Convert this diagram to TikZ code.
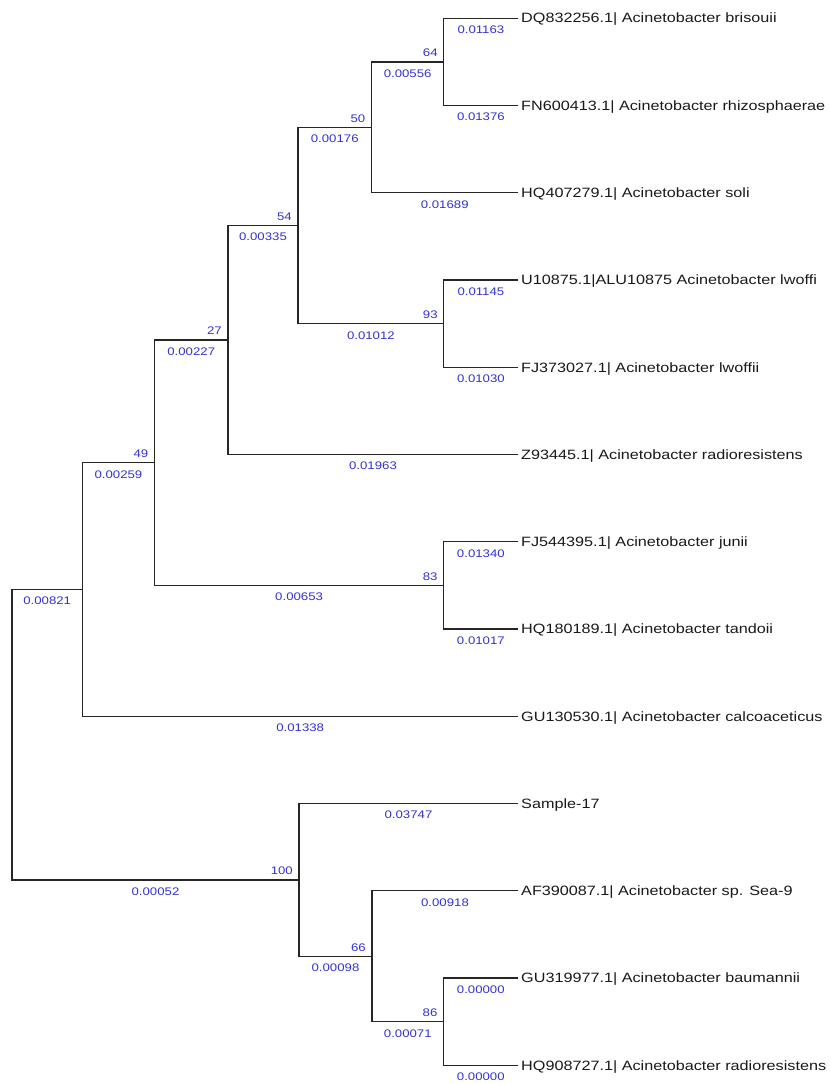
\documentclass[tikz,border=0pt]{standalone}
\usepackage{fontspec}
\newfontfamily\treefont[FakeStretch=1.2]{Liberation Sans}
\definecolor{bluelab}{RGB}{50,50,210}
\begin{document}
\begin{tikzpicture}[x=1pt,y=-1pt,
  branch/.style={draw=black!85, line width=1.3pt},
  leaflab/.style={font=\treefont\fontsize{13.5}{15}\selectfont, anchor=base west, inner sep=0pt, text=black!90},
  bl/.style={font=\treefont\fontsize{11}{13}\selectfont, text=bluelab, anchor=north, inner sep=0pt, yshift=-7pt},
  bs/.style={font=\treefont\fontsize{11}{13}\selectfont, text=bluelab, anchor=south east, inner sep=0pt}]
\useasboundingbox (0,0) rectangle (830,1084);
% leaves (line ends)
\coordinate (L1) at (518,18.3);
\coordinate (L2) at (518,105.6);
\coordinate (L3) at (518,192.8);
\coordinate (L4) at (518,280.1);
\coordinate (L5) at (518,367.3);
\coordinate (L6) at (518,454.6);
\coordinate (L7) at (518,541.8);
\coordinate (L8) at (518,629.1);
\coordinate (L9) at (518,716.3);
\coordinate (L10) at (518,803.6);
\coordinate (L11) at (518,890.8);
\coordinate (L12) at (518,978.1);
\coordinate (L13) at (518,1065.3);
% internal nodes
\coordinate (n64) at (443.8,61.95);
\coordinate (n50) at (371.5,127.4);
\coordinate (n93) at (443.8,323.7);
\coordinate (n54) at (298,225.5);
\coordinate (n27) at (228,340);
\coordinate (n83) at (443.7,585.5);
\coordinate (n49) at (154.5,462.8);
\coordinate (nA) at (82.4,589.5);
\coordinate (n86) at (443.6,1021.7);
\coordinate (n66) at (372,956.3);
\coordinate (n100) at (299,880);
\coordinate (root) at (12,734.7);
% branches with lengths
\draw[branch] (n64) |- (L1) node[bl,pos=0.75]{0.01163};
\draw[branch] (n64) |- (L2) node[bl,pos=0.75]{0.01376};
\draw[branch] (n50) |- (n64) node[bl,pos=0.75]{0.00556};
\draw[branch] (n50) |- (L3) node[bl,pos=0.75]{0.01689};
\draw[branch] (n93) |- (L4) node[bl,pos=0.75]{0.01145};
\draw[branch] (n93) |- (L5) node[bl,pos=0.75]{0.01030};
\draw[branch] (n54) |- (n50) node[bl,pos=0.75]{0.00176};
\draw[branch] (n54) |- (n93) node[bl,pos=0.75]{0.01012};
\draw[branch] (n27) |- (n54) node[bl,pos=0.75]{0.00335};
\draw[branch] (n27) |- (L6) node[bl,pos=0.75]{0.01963};
\draw[branch] (n83) |- (L7) node[bl,pos=0.75]{0.01340};
\draw[branch] (n83) |- (L8) node[bl,pos=0.75]{0.01017};
\draw[branch] (n49) |- (n27) node[bl,pos=0.75]{0.00227};
\draw[branch] (n49) |- (n83) node[bl,pos=0.75]{0.00653};
\draw[branch] (nA) |- (n49) node[bl,pos=0.75]{0.00259};
\draw[branch] (nA) |- (L9) node[bl,pos=0.75]{0.01338};
\draw[branch] (root) |- (nA) node[bl,pos=0.75]{0.00821};
\draw[branch] (root) |- (n100) node[bl,pos=0.75]{0.00052};
\draw[branch] (n100) |- (L10) node[bl,pos=0.75]{0.03747};
\draw[branch] (n100) |- (n66) node[bl,pos=0.75]{0.00098};
\draw[branch] (n66) |- (L11) node[bl,pos=0.75]{0.00918};
\draw[branch] (n66) |- (n86) node[bl,pos=0.75]{0.00071};
\draw[branch] (n86) |- (L12) node[bl,pos=0.75]{0.00000};
\draw[branch] (n86) |- (L13) node[bl,pos=0.75]{0.00000};
% bootstrap values
\node[bs] (b64) at ([xshift=-6pt,yshift=5pt]n64) {64};
\node[bs] (b50) at ([xshift=-6pt,yshift=5pt]n50) {50};
\node[bs] (b93) at ([xshift=-6pt,yshift=5pt]n93) {93};
\node[bs] (b54) at ([xshift=-6pt,yshift=5pt]n54) {54};
\node[bs] (b27) at ([xshift=-6pt,yshift=5pt]n27) {27};
\node[bs] (b83) at ([xshift=-6pt,yshift=5pt]n83) {83};
\node[bs] (b49) at ([xshift=-6pt,yshift=5pt]n49) {49};
\node[bs] (b100) at ([xshift=-6pt,yshift=5pt]n100) {100};
\node[bs] (b66) at ([xshift=-6pt,yshift=5pt]n66) {66};
\node[bs] (b86) at ([xshift=-6pt,yshift=5pt]n86) {86};
% leaf labels
\node[leaflab] (t1) at ([xshift=3pt,yshift=-4.7pt]L1) {DQ832256.1| Acinetobacter brisouii};
\node[leaflab] (t2) at ([xshift=3pt,yshift=-4.7pt]L2) {FN600413.1| Acinetobacter rhizosphaerae};
\node[leaflab] (t3) at ([xshift=3pt,yshift=-4.7pt]L3) {HQ407279.1| Acinetobacter soli};
\node[leaflab] (t4) at ([xshift=3pt,yshift=-4.7pt]L4) {U10875.1|ALU10875 Acinetobacter lwoffi};
\node[leaflab] (t5) at ([xshift=3pt,yshift=-4.7pt]L5) {FJ373027.1| Acinetobacter lwoffii};
\node[leaflab] (t6) at ([xshift=3pt,yshift=-4.7pt]L6) {Z93445.1| Acinetobacter radioresistens};
\node[leaflab] (t7) at ([xshift=3pt,yshift=-4.7pt]L7) {FJ544395.1| Acinetobacter junii};
\node[leaflab] (t8) at ([xshift=3pt,yshift=-4.7pt]L8) {HQ180189.1| Acinetobacter tandoii};
\node[leaflab] (t9) at ([xshift=3pt,yshift=-4.7pt]L9) {GU130530.1| Acinetobacter calcoaceticus};
\node[leaflab] (t10) at ([xshift=3pt,yshift=-4.7pt]L10) {Sample-17};
\node[leaflab] (t11) at ([xshift=3pt,yshift=-4.7pt]L11) {AF390087.1| Acinetobacter sp. Sea-9};
\node[leaflab] (t12) at ([xshift=3pt,yshift=-4.7pt]L12) {GU319977.1| Acinetobacter baumannii};
\node[leaflab] (t13) at ([xshift=3pt,yshift=-4.7pt]L13) {HQ908727.1| Acinetobacter radioresistens};
\end{tikzpicture}
\end{document}
